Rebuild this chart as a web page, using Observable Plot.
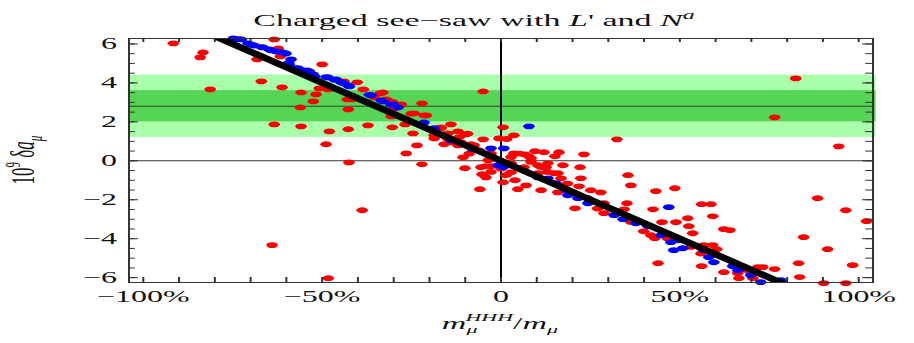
<!DOCTYPE html>
<html>
<head>
<meta charset="utf-8">
<script src="https://cdn.jsdelivr.net/npm/d3@7"></script>
<script src="https://cdn.jsdelivr.net/npm/@observablehq/plot@0.6"></script>
<style>
  body { margin: 0; background: #fff; }
  svg { display: block; }
</style>
</head>
<body>
<div id="chart"></div>
<script>
// Scan points: m_mu^HHH / m_mu in percent, 10^9 delta a_mu
const redX = [-91.6,-83.3,-84.1,-81.3,-68.2,-63.4,-62.3,-61.7,-67.0,-61.2,-63.4,-50.0,-55.9,-51.7,-52.5,-56.1,-55.9,-48.0,-48.9,-50.8,-48.3,-42.5,-42.7,-37.2,-30.4,-42.7,-43.0,-40.2,-41.6,-38.5,-43.9,-33.8,-32.1,-35.5,-29.9,-27.9,-30.7,-64.0,-48.3,-38.8,-33.0,-5.0,-28.2,-31.6,-22.1,-24.3,-20.9,-26.8,-24.6,-23.5,-26.5,-14.0,-16.8,0.6,3.6,-0.6,1.6,-5.0,32.4,9.5,12.0,16.2,23.2,6.7,7.8,15.1,3.6,-10.6,-22.1,-18.7,-15.9,-12.0,-9.8,-11.2,-8.4,-10.1,-5.9,-5.3,17.3,10.3,12.6,15.9,0.6,3.9,7.0,4.7,15.9,-5.6,-2.8,-4.2,11.2,22.1,22.3,21.8,25.1,27.9,20.7,28.8,35.5,36.3,35.2,24.3,43.3,48.6,42.5,56.1,58.7,59.2,52.2,48.9,45.0,52.5,53.6,62.3,64.0,43.0,39.9,56.7,59.2,60.3,43.9,56.1,62.3,66.2,71.8,73.2,76.5,66.5,70.4,34.4,88.5,96.4,102.2,84.6,91.3,98.3,83.2,83.5,90.2,96.4,82.4,76.5,94.4,-18.7,-14.8,-12.0,-7.5,-3.6,2.8,6.4,10.3,2.8,8.4,13.1,16.8,27.0,32.6,36.3,19.6,
  -30.3,-25.1,-21.5,-16.8,-14.9,-13.5,-11.6,-9.3,-7.5,-8.9,-6.1,-2.8,-2.3,2.8,5.1,8.4,11.2,13.0,14.8,18.6,1.4,0.0,-2.8,-4.2,28.8,41.9,46.6,53.1,55.9,68.9];
const redY = [6.03,5.56,5.31,3.67,5.21,6.23,5.77,5.36,4.08,3.77,1.87,4.95,3.51,3.41,3.05,2.74,1.77,1.51,0.85,3.72,3.67,-0.08,1.62,1.82,1.72,2.64,3.15,4.03,3.15,3.67,4.08,3.46,3.15,3.26,2.69,2.90,2.28,-4.33,-6.03,-2.54,3.51,3.56,2.85,3.10,2.95,2.44,2.33,1.87,1.41,0.79,0.38,1.87,1.72,1.72,1.31,1.15,1.12,1.10,1.10,0.49,0.44,0.44,0.33,0.33,0.23,0.23,0.38,0.18,-0.18,1.15,0.85,1.51,1.36,0.95,0.85,-0.38,-1.46,-0.69,-0.23,-0.23,-0.33,-0.64,-1.10,-1.00,-1.26,-1.46,-1.62,-0.33,-0.28,-0.85,-1.51,-0.33,-0.90,-1.31,-1.51,-1.62,-2.44,-2.18,-0.74,-1.26,-2.18,-1.92,-1.56,-1.41,-2.49,-2.23,-2.23,-2.85,-2.95,-3.15,-3.15,-3.36,-3.72,-3.51,-3.56,-3.97,-3.62,-4.33,-4.33,-4.54,-5.26,-5.41,-5.72,-5.77,-5.46,-5.46,-5.56,-6.03,-6.03,-2.49,-1.92,-2.54,-3.10,-3.92,-4.54,-5.36,-5.26,-5.97,-6.28,-6.28,4.23,2.23,0.74,1.31,1.41,0.79,0.54,0.03,-0.13,-0.33,-0.64,-0.59,0.13,-0.13,-0.90,-2.45,-2.63,-3.14,-1.68,
  3.02,2.42,2.33,1.67,1.14,0.96,1.22,1.39,0.79,0.37,0.54,0.37,0.11,0.19,0.37,-0.06,-0.32,-0.57,-0.64,-1.17,-0.74,-0.40,-0.57,-0.27,-2.69,-3.82,-3.99,-4.42,-4.76,-5.62];

const blueX = [-74.9,-72.6,-70.7,-69.0,-66.5,-64.8,-62.8,-60.1,-58.7,-59.2,-57.3,-55.3,-53.6,-52.5,-48.3,-46.1,-43.9,-42.7,-36.3,-33.0,-30.2,-28.8,-21.5,-18.7,-14.0,-8.0,-2.8,0.8,-0.8,0.6,10.3,13.1,18.7,15.4,18.2,21.5,24.3,31.6,34.1,37.7,41.1,44.7,47.5,49.7,48.3,50.8,56.7,59.5,64.8,66.2,69.8,72.6,78.2,7.8,46.9,58.1,
  -73.5,-69.8,-67.0,-64.2,-61.0,-59.4,-56.8,-54.2,-52.1,-48.9,-46.6,-44.7,-42.4,-36.8,-33.5,-30.7];
const blueY = [6.28,6.23,6.03,5.92,5.82,5.72,5.62,5.51,5.21,4.95,4.74,4.64,4.59,4.44,4.28,4.18,3.97,3.87,3.36,3.05,2.90,2.74,1.97,1.67,1.05,0.60,0.64,0.64,-0.23,-0.33,-0.85,-0.90,-1.77,-1.15,-1.51,-1.92,-2.18,-2.79,-3.00,-3.21,-3.36,-3.82,-4.18,-4.08,-4.59,-4.49,-4.59,-5.21,-5.41,-5.62,-5.87,-6.23,-6.13,1.77,-2.38,-4.95,
  6.25,5.96,5.84,5.67,5.56,5.02,4.76,4.64,4.33,4.30,4.16,4.03,3.82,3.39,3.10,2.88];

// Straight-line relation through the origin
const fitX = [-90, 90];
const fitY = [7.2, -7.2];

// Experimental band: central value, 1 sigma and 2 sigma ranges
const bandMid = [2.8];
const band1 = [2.0, 3.6];
const band2 = [1.2, 4.4];

// Axes
const xTicks = [-100, -50, 0, 50, 100];
const xTickLabels = ["\u2212100%", "\u221250%", "0", "50%", "100%"];
const xMinor = [-100,-90,-80,-70,-60,-50,-40,-30,-20,-10,0,10,20,30,40,50,60,70,80,90,100];
const yTicks = [-6, -4, -2, 0, 2, 4, 6];
const yTickLabels = ["\u22126", "\u22124", "\u22122", "0", "2", "4", "6"];
const yMinor = [-6,-5.5,-5,-4.5,-4,-3.5,-3,-2.5,-2,-1.5,-1,-0.5,0,0.5,1,1.5,2,2.5,3,3.5,4,4.5,5,5.5,6];

const xDomain = [-104, 104];
const yDomain = [-6.25, 6.28];

const W = 457, H = 343;
const mL = 64, mR = 21, mT = 38, mB = 61;
const frameH = H - mT - mB;
const frameW = W - mL - mR;

const red = redX.map((x, i) => ({x, y: redY[i]}));
const blue = blueX.map((x, i) => ({x, y: blueY[i]}));
const fit = fitX.map((x, i) => ({x, y: fitY[i]}));

const serif = "'Liberation Serif', 'Times New Roman', serif";

const chart = Plot.plot({
  width: W,
  height: H,
  marginLeft: mL,
  marginRight: mR,
  marginTop: mT,
  marginBottom: mB,
  style: {fontFamily: serif, fontSize: "16px", color: "#111", background: "#fff"},
  x: {domain: xDomain, axis: null},
  y: {domain: yDomain, axis: null},
  marks: [
    Plot.rect([band2], {x1: xDomain[0], x2: 105, y1: d => d[0], y2: d => d[1], fill: "#aaffaa"}),
    Plot.rect([band1], {x1: xDomain[0], x2: 105, y1: d => d[0], y2: d => d[1], fill: "#55d455"}),
    Plot.ruleY(bandMid, {stroke: "#2a4a2a", strokeWidth: 1}),
    Plot.ruleY([0], {stroke: "#333", strokeWidth: 1}),
    Plot.ruleX([0], {stroke: "#000", strokeWidth: 1}),
    Plot.dot(red, {x: "x", y: "y", r: 2.9, fill: "#ff0000", stroke: null}),
    Plot.dot(blue, {x: "x", y: "y", r: 2.9, fill: "#0000ff", stroke: null}),
    Plot.line(fit, {x: "x", y: "y", stroke: "#000", strokeWidth: 5.5, clip: true}),
    // frame ticks pointing inward
    Plot.tickX(xMinor, {x: d => d, insetTop: frameH - 5, stroke: "#333"}),
    Plot.tickX(xMinor, {x: d => d, insetBottom: frameH - 4, stroke: "#333"}),
    Plot.tickY(yMinor, {y: d => d, insetRight: frameW - 3.4, stroke: "#333"}),
    Plot.tickY(yTicks, {y: d => d, insetRight: frameW - 5, stroke: "#333"}),
    Plot.tickY(yMinor, {y: d => d, insetLeft: frameW - 3.4, stroke: "#333"}),
    Plot.tickY(yTicks, {y: d => d, insetLeft: frameW - 5, stroke: "#333"}),
    Plot.frame({stroke: "#333", strokeWidth: 1}),
    Plot.axisX(xTicks, {tickSize: 0, tickPadding: 8, fontSize: 16, label: null,
      tickFormat: d => xTickLabels[xTicks.indexOf(d)]}),
    Plot.axisY(yTicks, {tickSize: 0, tickPadding: 6, fontSize: 16, label: null,
      tickFormat: d => yTickLabels[yTicks.indexOf(d)]})
  ]
});

// The figure is drawn on a narrow canvas and widened to the page width
chart.setAttribute("viewBox", `0 0 ${W} ${H}`);
chart.setAttribute("preserveAspectRatio", "none");
chart.setAttribute("width", 914);
chart.setAttribute("height", H);
chart.style.width = "914px";
chart.style.height = H + "px";
chart.style.maxWidth = "none";

const svg = d3.select(chart);

// Title
const title = svg.append("text")
  .attr("x", 237).attr("y", 26)
  .attr("text-anchor", "middle")
  .attr("font-family", serif)
  .attr("font-size", 17)
  .attr("fill", "#111");
title.append("tspan").text("Charged see\u2212saw with ");
title.append("tspan").attr("font-style", "italic").text("L");
title.append("tspan").text("' and ");
title.append("tspan").attr("font-style", "italic").text("N");
title.append("tspan").attr("font-style", "italic").attr("font-size", 12).attr("dy", -7).text("a");

// y-axis label
const ylab = svg.append("text")
  .attr("transform", `translate(17,${mT + frameH / 2}) rotate(-90)`)
  .attr("text-anchor", "middle")
  .attr("font-family", serif)
  .attr("font-size", 17)
  .attr("fill", "#111");
ylab.append("tspan").text("10");
ylab.append("tspan").attr("font-size", 11).attr("dy", -7).text("9");
ylab.append("tspan").attr("dy", 7).text(" \u03b4");
ylab.append("tspan").attr("font-style", "italic").text("a");
ylab.append("tspan").attr("font-style", "italic").attr("font-size", 11).attr("dy", 4).text("\u03bc");

// x-axis label
const xlab = svg.append("text")
  .attr("x", mL + frameW / 2).attr("y", 329)
  .attr("text-anchor", "middle")
  .attr("font-family", serif)
  .attr("font-size", 17)
  .attr("fill", "#111");
xlab.append("tspan").attr("font-style", "italic").text("m");
xlab.append("tspan").attr("font-style", "italic").attr("font-size", 11).attr("dy", 4).text("\u03bc");
xlab.append("tspan").attr("font-style", "italic").attr("font-size", 11).attr("dx", -6).attr("dy", -12).text("HHH");
xlab.append("tspan").attr("dy", 8).text("/");
xlab.append("tspan").attr("font-style", "italic").text("m");
xlab.append("tspan").attr("font-style", "italic").attr("font-size", 11).attr("dy", 4).text("\u03bc");

document.getElementById("chart").appendChild(chart);
</script>
</body>
</html>
